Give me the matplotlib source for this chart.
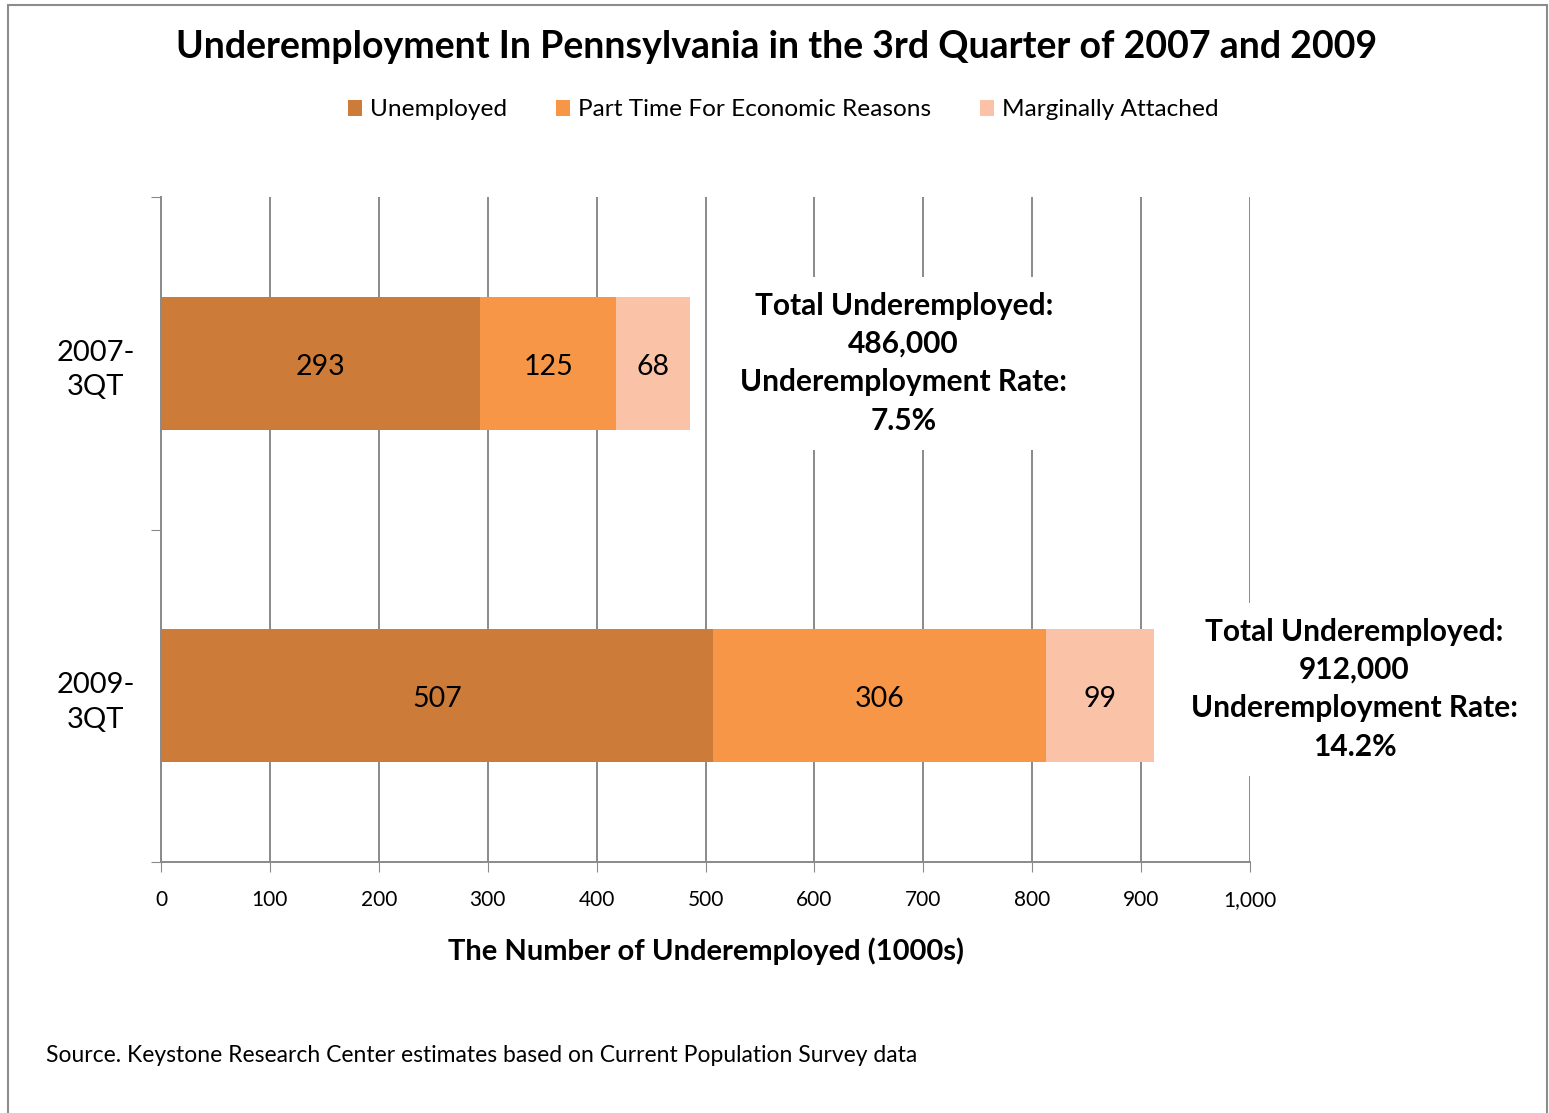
import numpy as np
import matplotlib.pyplot as plt
from matplotlib.patches import Rectangle

periods = ["2007-\n3QT", "2009-\n3QT"]
series = ["Unemployed", "Part Time For Economic Reasons", "Marginally Attached"]
unemployed = [293, 507]
part_time = [125, 306]
marginal = [68, 99]
totals_text = ["Total Underemployed:\n486,000\nUnderemployment Rate:\n7.5%",
               "Total Underemployed:\n912,000\nUnderemployment Rate:\n14.2%"]
colors = ["#CD7B38", "#F79646", "#FAC3A8"]

plt.rcParams['font.family'] = ['Lato', 'DejaVu Sans']

fig = plt.figure(figsize=(15.49, 11.13), dpi=100)
fig.patches.append(Rectangle((8 / 1549, -0.01), 1539 / 1549, 1 - 5 / 1113 + 0.01,
                             transform=fig.transFigure, fill=False,
                             edgecolor="#8c8c8c", linewidth=1.5))

ax = fig.add_axes([161 / 1549, 1 - 862 / 1113, 1089 / 1549, 665 / 1113])
y = np.arange(len(periods))
left = np.zeros(len(periods))
grid_c = "#8a8a8a"
for vals, name, c in zip([unemployed, part_time, marginal], series, colors):
    bars = ax.barh(y, vals, left=left, height=0.4, color=c, label=name, zorder=2)
    for yi, v, l in zip(y, vals, left):
        ax.text(l + v / 2, yi + 0.01, str(v), ha="center", va="center", fontsize=20.5, zorder=3)
    left = left + np.array(vals)

ax.set_xlim(0, 1000)
ax.set_ylim(1.5, -0.5)
ax.set_xticks(np.arange(0, 1001, 100))
ax.set_xticklabels([f"{v:,}" for v in range(0, 1001, 100)], fontsize=15)
ax.xaxis.grid(True, color=grid_c, linewidth=1.4, zorder=0)
ax.tick_params(axis="x", length=7, color=grid_c, pad=13)
ax.set_yticks([-0.5, 0.5, 1.5])
ax.set_yticklabels([])
ax.set_yticks(y, minor=True)
ax.set_yticklabels(periods, minor=True, fontsize=21, multialignment="center", linespacing=1.4)
ax.tick_params(axis="y", which="major", length=7, color=grid_c)
ax.tick_params(axis="y", which="minor", length=0, pad=19)
for s in ["top", "right"]:
    ax.spines[s].set_visible(False)
for s in ["left", "bottom"]:
    ax.spines[s].set_color(grid_c)
    ax.spines[s].set_linewidth(1.4)
ax.set_axisbelow(True)

ax.set_xlabel("The Number of Underemployed (1000s)", fontsize=21, fontweight="bold", labelpad=20)

ann_x = [682, 1096]
ann_y = [0, 0.98]
for yi, xi, t in zip(ann_y, ann_x, totals_text):
    ax.text(xi, yi, t, ha="center", va="center", fontsize=21.5, fontweight="bold",
            linespacing=1.45, zorder=4, clip_on=False,
            bbox=dict(boxstyle="square,pad=0.5", facecolor="white", edgecolor="none"))

fig.text(777 / 1549, 1 - 47 / 1113, "Underemployment In Pennsylvania in the 3rd Quarter of 2007 and 2009",
         ha="center", va="center", fontsize=27, fontweight="bold")
fig.legend(loc="center", bbox_to_anchor=(783 / 1549, 1 - 110 / 1113), ncol=3, frameon=False,
           fontsize=17.6, handlelength=0.6, handleheight=0.6, handletextpad=0.3, columnspacing=2.0)
fig.text(46 / 1549, 1 - 1055 / 1113, "Source. Keystone Research Center estimates based on Current Population Survey data",
         ha="left", va="center", fontsize=16.5)

fig.savefig("out.png", dpi=100)
